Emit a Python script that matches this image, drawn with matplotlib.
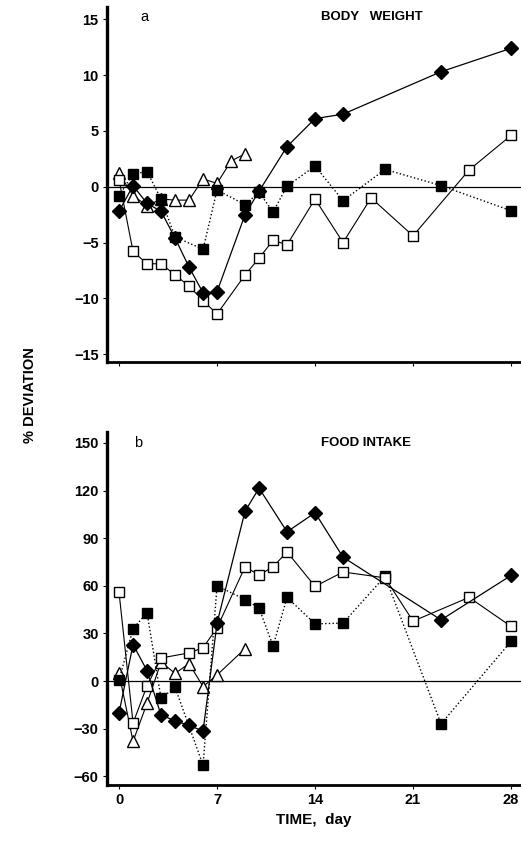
import matplotlib.pyplot as plt

plt.rcParams['font.family'] = ['Liberation Sans', 'DejaVu Sans']

# --------------------------------------------------------------------------- #
# Data ---------------------------------------------------------------------- #
# --------------------------------------------------------------------------- #

# ---- a: body weight ---- #
bw_dia_day = [0, 1, 2, 3, 4, 5, 6, 7, 9, 10, 12, 14, 16, 23, 28]
bw_dia_val = [-2.2, 0.1, -1.5, -2.2, -4.6, -7.2, -9.5, -9.4, -2.5, -0.4,
              3.6, 6.1, 6.5, 10.3, 12.4]

bw_osq_day = [0, 1, 2, 3, 4, 5, 6, 7, 9, 10, 11, 12, 14, 16, 18, 21, 25, 28]
bw_osq_val = [0.6, -5.8, -6.9, -6.9, -7.9, -8.9, -10.2, -11.4, -7.9, -6.4,
              -4.8, -5.2, -1.1, -5.0, -1.0, -4.4, 1.5, 4.6]

bw_fsq_day = [0, 1, 2, 3, 4, 6, 7, 9, 10, 11, 12, 14, 16, 19, 23, 28]
bw_fsq_val = [-0.8, 1.15, 1.35, -1.1, -4.5, -5.6, -0.3, -1.6, -0.5, -2.25,
              0.05, 1.85, -1.25, 1.55, 0.1, -2.15]

bw_tri_day = [0, 1, 2, 3, 4, 5, 6, 7, 8, 9]
bw_tri_val = [1.2, -0.8, -1.7, -1.1, -1.2, -1.2, 0.7, 0.3, 2.3, 2.95]

# ---- b: food intake ---- #
fi_dia_day = [0, 1, 2, 3, 4, 5, 6, 7, 9, 10, 12, 14, 16, 23, 28]
fi_dia_val = [-20, 23, 6.5, -21.5, -25, -28, -31.5, 36.5, 107, 121.5,
              94, 106, 78, 38.5, 66.5]

fi_osq_day = [0, 1, 2, 3, 5, 6, 7, 9, 10, 11, 12, 14, 16, 19, 21, 25, 28]
fi_osq_val = [55.8, -26.5, -3, 14.5, 17.7, 21, 33.5, 72, 66.7, 72, 81.3,
              59.6, 68.7, 65, 37.7, 52.7, 34.4]

fi_fsq_day = [0, 1, 2, 3, 4, 6, 7, 9, 10, 11, 12, 14, 16, 19, 23, 28]
fi_fsq_val = [0.5, 33, 43, -11, -4, -53, 60, 51.3, 46, 22, 52.7, 36, 36.5,
              66, -27, 25]

fi_tri_day = [0, 1, 2, 3, 4, 5, 6, 7, 9]
fi_tri_val = [4.8, -38, -14, 12, 4.8, 11, -3.5, 3.8, 20.4]

day_ticks = [0, 7, 14, 21, 28]
bw_ticks = [-15, -10, -5, 0, 5, 10, 15]
fi_ticks = [-60, -30, 0, 30, 60, 90, 120, 150]


# --------------------------------------------------------------------------- #
# Plotting ------------------------------------------------------------------ #
# --------------------------------------------------------------------------- #

def draw_panel(ax, dia, osq, fsq, tri):
    ax.axhline(0, color='k', lw=0.9, zorder=1)
    ax.plot(*fsq, ls=':', color='k', lw=1.0, marker='s', ms=7,
            mfc='k', mec='k', zorder=3)
    ax.plot(*tri, ls='-', color='k', lw=0.8, marker='^', ms=9,
            mfc='white', mec='k', mew=1.0, zorder=2)
    ax.plot(*osq, ls='-', color='k', lw=0.8, marker='s', ms=7,
            mfc='white', mec='k', mew=1.0, zorder=4)
    ax.plot(*dia, ls='-', color='k', lw=0.9, marker='D', ms=7.5,
            mfc='k', mec='k', zorder=5)
    for s in ['top', 'right']:
        ax.spines[s].set_visible(False)
    ax.spines['left'].set_linewidth(2.4)
    ax.spines['bottom'].set_linewidth(2.0)
    ax.set_xlim(-0.86, 28.71)
    ax.set_xticks(day_ticks)
    ax.tick_params(axis='both', direction='out', length=3, width=0.8,
                   labelsize=10.5, pad=3)


fig = plt.figure(figsize=(5.21, 8.5), dpi=100)

# ---- PANEL A ---- #
ax1 = fig.add_axes([0.2054, 0.5741, 0.7946, 0.4177])
draw_panel(ax1, (bw_dia_day, bw_dia_val), (bw_osq_day, bw_osq_val),
           (bw_fsq_day, bw_fsq_val), (bw_tri_day, bw_tri_val))
ax1.set_ylim(-15.7, 16.1)
ax1.set_yticks(bw_ticks)
ax1.set_yticklabels([str(t).replace('-', '\u2212') for t in bw_ticks],
                    fontweight='bold')
ax1.set_xticklabels([])
ax1.text(0.09, 0.972, 'a', transform=ax1.transAxes, fontsize=10.5,
         ha='center', va='center')
ax1.text(0.64, 0.972, 'BODY   WEIGHT', transform=ax1.transAxes,
         fontsize=9.5, fontweight='bold', ha='center', va='center')

# ---- PANEL B ---- #
ax2 = fig.add_axes([0.2054, 0.0765, 0.7946, 0.4153])
draw_panel(ax2, (fi_dia_day, fi_dia_val), (fi_osq_day, fi_osq_val),
           (fi_fsq_day, fi_fsq_val), (fi_tri_day, fi_tri_val))
ax2.set_ylim(-65.5, 156.9)
ax2.set_yticks(fi_ticks)
ax2.set_yticklabels([str(t).replace('-', '\u2212') for t in fi_ticks],
                    fontweight='bold')
ax2.set_xticklabels([str(t) for t in day_ticks], fontweight='bold')
ax2.text(0.075, 0.97, 'b', transform=ax2.transAxes, fontsize=10.5,
         ha='center', va='center')
ax2.text(0.625, 0.97, 'FOOD INTAKE', transform=ax2.transAxes,
         fontsize=9.5, fontweight='bold', ha='center', va='center')
ax2.set_xlabel('TIME,  day', fontsize=11, fontweight='bold', labelpad=4)

# ---- SHARED Y LABEL ---- #
fig.text(0.058, 0.535, '% DEVIATION', rotation=90, fontsize=10.5,
         fontweight='bold', ha='center', va='center')

fig.savefig('out.png', dpi=100)
